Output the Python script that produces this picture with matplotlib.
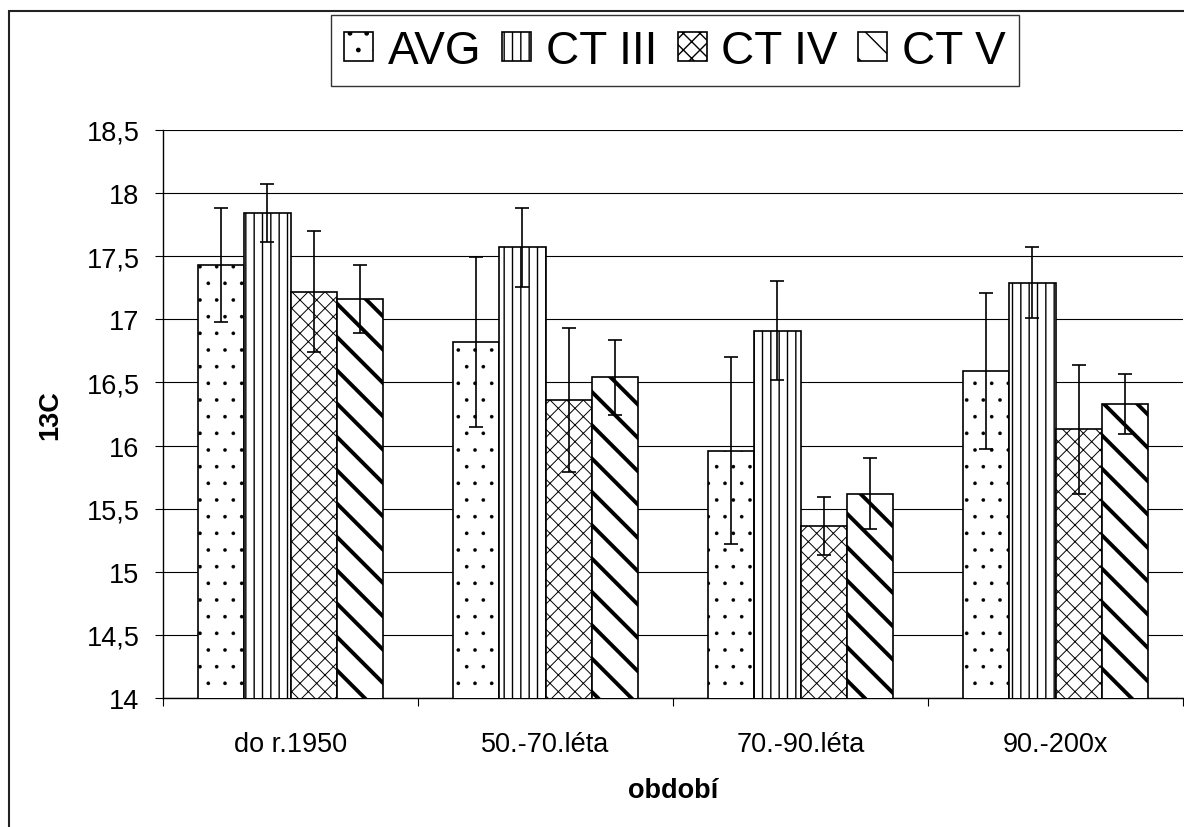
import matplotlib
matplotlib.use("Agg")
import matplotlib.pyplot as plt
import matplotlib.ticker as ticker
from matplotlib.patches import Rectangle
import numpy as np

# Category labels and series (mean value, error)
categories = ["do r.1950", "50.-70.léta", "70.-90.léta", "90.-200x"]
series_names = ["AVG", "CT III", "CT IV", "CT V"]

avg_values = [17.43, 16.82, 15.96, 16.59]
avg_errors = [0.45, 0.67, 0.74, 0.62]
ct3_values = [17.84, 17.57, 16.91, 17.29]
ct3_errors = [0.23, 0.31, 0.39, 0.28]
ct4_values = [17.22, 16.36, 15.36, 16.13]
ct4_errors = [0.48, 0.57, 0.23, 0.51]
ct5_values = [17.16, 16.54, 15.62, 16.33]
ct5_errors = [0.27, 0.30, 0.28, 0.24]

y_ticks = [14, 14.5, 15, 15.5, 16, 16.5, 17, 17.5, 18, 18.5]


def comma_format(v, pos):
    # Czech style decimal comma, drop trailing ",0"
    s = "{:g}".format(v)
    return s.replace(".", ",")


def plot_chart():
    plt.rcParams['font.family'] = ['Liberation Sans', 'DejaVu Sans']

    fig = plt.figure(figsize=(11.84, 8.28), dpi=100)
    ax = fig.add_axes([163 / 1184, 1 - 699 / 828, 1020 / 1184, 568 / 828])

    all_values = [avg_values, ct3_values, ct4_values, ct5_values]
    all_errors = [avg_errors, ct3_errors, ct4_errors, ct5_errors]
    hatches = ['.', '||', 'xx', '\\']
    hatch_widths = [0.2, 1.0, 0.7, 2.8]

    x = np.arange(len(categories))
    width = 0.182
    offsets = [-1.5, -0.5, 0.5, 1.5]

    handles = []
    for vals, errs, name, hatch, hw, off in zip(all_values, all_errors, series_names,
                                                 hatches, hatch_widths, offsets):
        bars = ax.bar(x + off * width, vals, width, color='white', edgecolor='black',
                      linewidth=1.2, hatch=hatch, label=name, zorder=3)
        for b in bars:
            if hasattr(b, 'set_hatch_linewidth'):
                b.set_hatch_linewidth(hw)
        ax.errorbar(x + off * width, vals, yerr=errs, fmt='none', ecolor='black',
                    elinewidth=1.2, capsize=4.7, capthick=1.2, zorder=4)
        handles.append(bars)

    # Axes ranges and grid
    ax.set_ylim(14, 18.5)
    ax.set_xlim(-0.5, len(categories) - 0.5)
    ax.set_yticks(y_ticks)
    ax.yaxis.set_major_formatter(ticker.FuncFormatter(comma_format))
    ax.yaxis.grid(True, color='black', linewidth=0.8, zorder=0)
    ax.set_axisbelow(True)

    ax.set_xticks(x)
    ax.set_xticklabels(categories)
    ax.set_xticks(np.arange(-0.5, len(categories)), minor=True)
    ax.tick_params(axis='x', which='major', length=0, pad=24, labelsize=19.5)
    ax.tick_params(axis='x', which='minor', direction='out', length=6, width=0.8)
    ax.tick_params(axis='y', direction='out', length=6, width=0.8, pad=11, labelsize=19.5)

    for side in ['top', 'right']:
        ax.spines[side].set_visible(False)
    for side in ['left', 'bottom']:
        ax.spines[side].set_linewidth(1.0)
        ax.spines[side].set_color('black')

    ax.set_ylabel("13C", fontsize=19.5, fontweight='bold', va='center')
    ax.yaxis.set_label_coords(-0.111, 0.5)
    ax.set_xlabel("období", fontsize=19.5, fontweight='bold')
    ax.xaxis.set_label_coords(0.5, -0.162)
    ax.xaxis.label.set_va('center')

    # Legend on top of the chart
    leg = fig.legend(handles=handles, labels=series_names, ncol=4,
                     loc='center', bbox_to_anchor=(675 / 1184, 1 - 51.5 / 828),
                     fontsize=33, frameon=True, fancybox=False, shadow=False,
                     handlelength=0.63, handleheight=0.6, handletextpad=0.32,
                     columnspacing=0.45, borderpad=0.3, borderaxespad=0)
    leg.get_frame().set_edgecolor('black')
    leg.get_frame().set_linewidth(1.0)

    # Outer chart frame
    frame = Rectangle((9 / 1184, -0.1), 1.2, 1.1 - 12 / 828, transform=fig.transFigure,
                      fill=False, edgecolor='#222222', linewidth=1.5, clip_on=False)
    fig.patches.append(frame)

    fig.savefig("out.png", dpi=100)


if __name__ == '__main__':
    plot_chart()
